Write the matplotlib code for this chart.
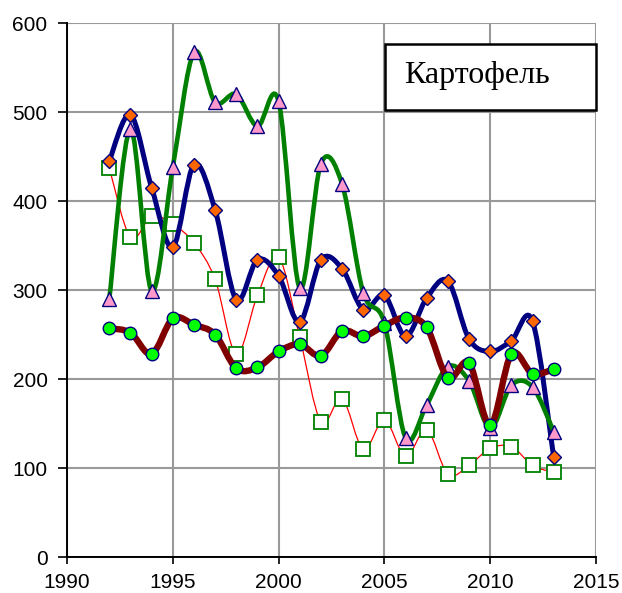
import numpy as np
import matplotlib
matplotlib.use("Agg")
import matplotlib.pyplot as plt
from matplotlib.path import Path
from matplotlib.patches import PathPatch

years = list(range(1992, 2014))

# orange diamonds, navy line
diamonds = [445, 497, 415, 348, 441, 390, 289, 334, 316, 264, 334, 324,
            278, 294, 248, 291, 310, 245, 231, 243, 265, 112]
# pink triangles, green line
triangles = [290, 481, 299, 438, 567, 511, 520, 484, 512, 302, 442, 419,
             297, 263, 134, 171, 214, 198, 145, 193, 191, 141]
# green circles, maroon line
circles = [257, 252, 228, 268, 261, 250, 212, 213, 231, 239, 226, 254,
           248, 260, 269, 258, 201, 218, 148, 228, 206, 211]
# white squares, thin red line
squares = [437, 359, 383, 374, 353, 312, 228, 294, 337, 247, 152, 178,
           121, 154, 113, 143, 93, 103, 122, 124, 103, 95]

title = "Картофель"


def smooth_path(xs, ys):
    # Excel-like smoothed line: cubic bezier, control points from neighbours
    pts = np.column_stack([xs, ys]).astype(float)
    n = len(pts)
    verts = [pts[0]]
    codes = [Path.MOVETO]
    for i in range(n - 1):
        p0 = pts[i - 1] if i > 0 else pts[i]
        p1 = pts[i]
        p2 = pts[i + 1]
        p3 = pts[i + 2] if i + 2 < n else pts[i + 1]
        c1 = p1 + (p2 - p0) / 6.0
        c2 = p2 - (p3 - p1) / 6.0
        verts += [c1, c2, p2]
        codes += [Path.CURVE4] * 3
    return Path(verts, codes)


fig = plt.figure(figsize=(6.22, 5.93), dpi=100)
ax = fig.add_axes([0.1077, 0.0607, 0.8505, 0.9005])

# squares / thin red
ax.add_patch(PathPatch(smooth_path(years, squares), fill=False,
                       edgecolor="#ff0000", lw=0.9, zorder=3))
ax.plot(years, squares, ls="none", marker="s", ms=9.5, mfc="white",
        mec="#008000", mew=1.3, zorder=4)

# diamonds / navy
ax.add_patch(PathPatch(smooth_path(years, diamonds), fill=False,
                       edgecolor="#000080", lw=3.6, zorder=5))
ax.plot(years, diamonds, ls="none", marker="D", ms=7, mfc="#ff6600",
        mec="#000080", mew=1.0, zorder=6)

# triangles / green
ax.add_patch(PathPatch(smooth_path(years, triangles), fill=False,
                       edgecolor="#008000", lw=3.3, zorder=7))
ax.plot(years, triangles, ls="none", marker="^", ms=10, mfc="#ff99cc",
        mec="#000080", mew=1.0, zorder=8)

# circles / maroon
ax.add_patch(PathPatch(smooth_path(years, circles), fill=False,
                       edgecolor="#800000", lw=4.6, zorder=9))
ax.plot(years, circles, ls="none", marker="o", ms=9, mfc="#00ff00",
        mec="#000080", mew=1.0, zorder=10)

ax.set_xlim(1990, 2015)
ax.set_ylim(0, 600)
ax.set_xticks(range(1990, 2016, 5))
ax.set_yticks(range(0, 601, 100))
ax.grid(True, color="#999999", lw=1.5)
ax.set_axisbelow(True)
for s in ["top", "right"]:
    ax.spines[s].set_visible(False)
for s in ["left", "bottom"]:
    ax.spines[s].set_color("black")
    ax.spines[s].set_linewidth(1.4)
ax.tick_params(direction="out", width=1.2, color="black", labelsize=15)
ax.tick_params(axis="y", length=6.5, pad=7.5)
ax.tick_params(axis="x", length=5, pad=6.5)
for lab in ax.get_xticklabels() + ax.get_yticklabels():
    lab.set_family("Liberation Sans")

ax.text(2005.95, 532.6, title, fontsize=23, family="Liberation Serif",
        ha="left", va="baseline", zorder=12)
ax.add_patch(plt.Rectangle((2005.03, 502), 9.97, 74, fc="white",
                           ec="black", lw=1.8, zorder=11, clip_on=False))

fig.savefig("out.png", dpi=100)
